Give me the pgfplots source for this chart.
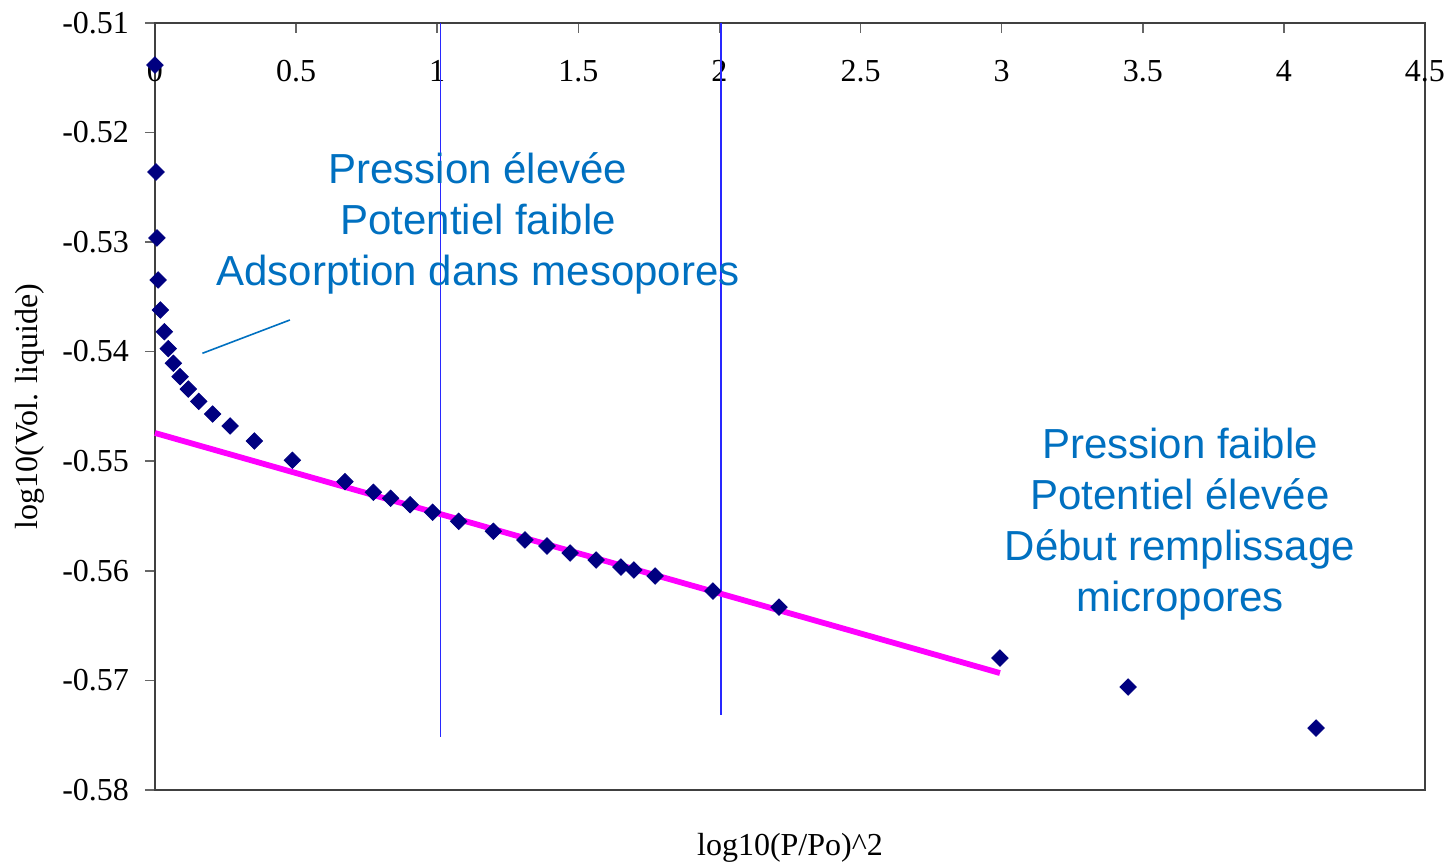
\documentclass[border=0pt]{standalone}
\usepackage{pgfplots}
\pgfplotsset{compat=1.18}
\usepackage{fontspec}
\setmainfont{Liberation Serif}
\newfontfamily\arial{Liberation Sans}
\definecolor{navy}{RGB}{0,0,128}
\definecolor{txtblue}{RGB}{0,112,192}
\definecolor{mag}{RGB}{255,0,255}
\definecolor{vblue}{RGB}{40,40,255}
\begin{document}
\begin{tikzpicture}
\useasboundingbox (-77.5pt,-37pt) rectangle (646.5pt,395pt);
\begin{axis}[
  at={(0,0)}, anchor=south west, scale only axis,
  width=635pt, height=383.65pt,
  xmin=0, xmax=4.5, ymin=-0.58, ymax=-0.51,
  clip=false,
  axis line style={black!75, line width=0.8pt},
  xtick={0,0.5,1,1.5,2,2.5,3,3.5,4,4.5},
  xticklabels={0,0.5,1,1.5,2,2.5,3,3.5,4,4.5},
  ytick={-0.58,-0.57,-0.56,-0.55,-0.54,-0.53,-0.52,-0.51},
  yticklabels={-0.58,-0.57,-0.56,-0.55,-0.54,-0.53,-0.52,-0.51},
  xtick pos=upper, ytick pos=left,
  xticklabel pos=upper,
  xtick align=inside, ytick align=outside,
  major tick length=5pt,
  tick style={black!60, line width=0.8pt},
  tick label style={font=\fontsize{16}{19}\selectfont},
  xticklabel style={anchor=center, yshift=-24pt},
  yticklabel style={anchor=east, xshift=-4.5pt},
  label style={font=\fontsize{16}{19}\selectfont},
  xlabel={log10(P/Po)\textasciicircum 2},
  xlabel style={at={(axis description cs:0.5,-0.0756)}, anchor=center},
  ylabel={log10(Vol. liquide)},
  ylabel style={at={(axis description cs:-0.0984,0.5)}, anchor=center},
]
% vertical separators
\addplot[vblue, line width=0.8pt] coordinates {(1.011,-0.51) (1.011,-0.5752)};
\addplot[vblue, line width=0.8pt] coordinates {(2.006,-0.51) (2.006,-0.5732)};
% fitted line
\addplot[mag, line width=2.9pt] coordinates {(0,-0.54743) (2.994,-0.56933)};
% annotation pointer
\addplot[txtblue, line width=0.8pt] coordinates {(0.168,-0.54016) (0.478,-0.53712)};
% data
\addplot[only marks, mark=square*, mark size=2.9pt,
  mark options={rotate=45, fill=navy, draw=navy}] coordinates {
(0,-0.51386) (0.0035,-0.52362) (0.007,-0.52964) (0.011,-0.53347)
(0.019,-0.53621) (0.033,-0.53819) (0.047,-0.53974) (0.065,-0.54107)
(0.089,-0.54229) (0.118,-0.54342) (0.155,-0.54454) (0.204,-0.54570)
(0.266,-0.54679) (0.352,-0.54816) (0.487,-0.54992) (0.673,-0.55187)
(0.774,-0.55284) (0.835,-0.55339) (0.904,-0.55397) (0.984,-0.55466)
(1.076,-0.55549) (1.199,-0.55640) (1.311,-0.55719) (1.389,-0.55774)
(1.471,-0.55838) (1.563,-0.55902) (1.651,-0.55966) (1.697,-0.55993)
(1.772,-0.56048) (1.977,-0.56185) (2.211,-0.56331) (2.994,-0.56796)
(3.448,-0.57061) (4.114,-0.57435)
};
\node[txtblue, align=center, font=\arial\fontsize{21}{25.5}\selectfont]
  at (axis cs:1.1446,-0.52832) {Pression élevée\\Potentiel faible\\Adsorption dans mesopores};
\node[txtblue, align=center, font=\arial\fontsize{21}{25.5}\selectfont]
  at (axis cs:3.632,-0.55570) {Pression faible\\Potentiel élevée\\Début remplissage\\micropores};
\end{axis}
\end{tikzpicture}
\end{document}
